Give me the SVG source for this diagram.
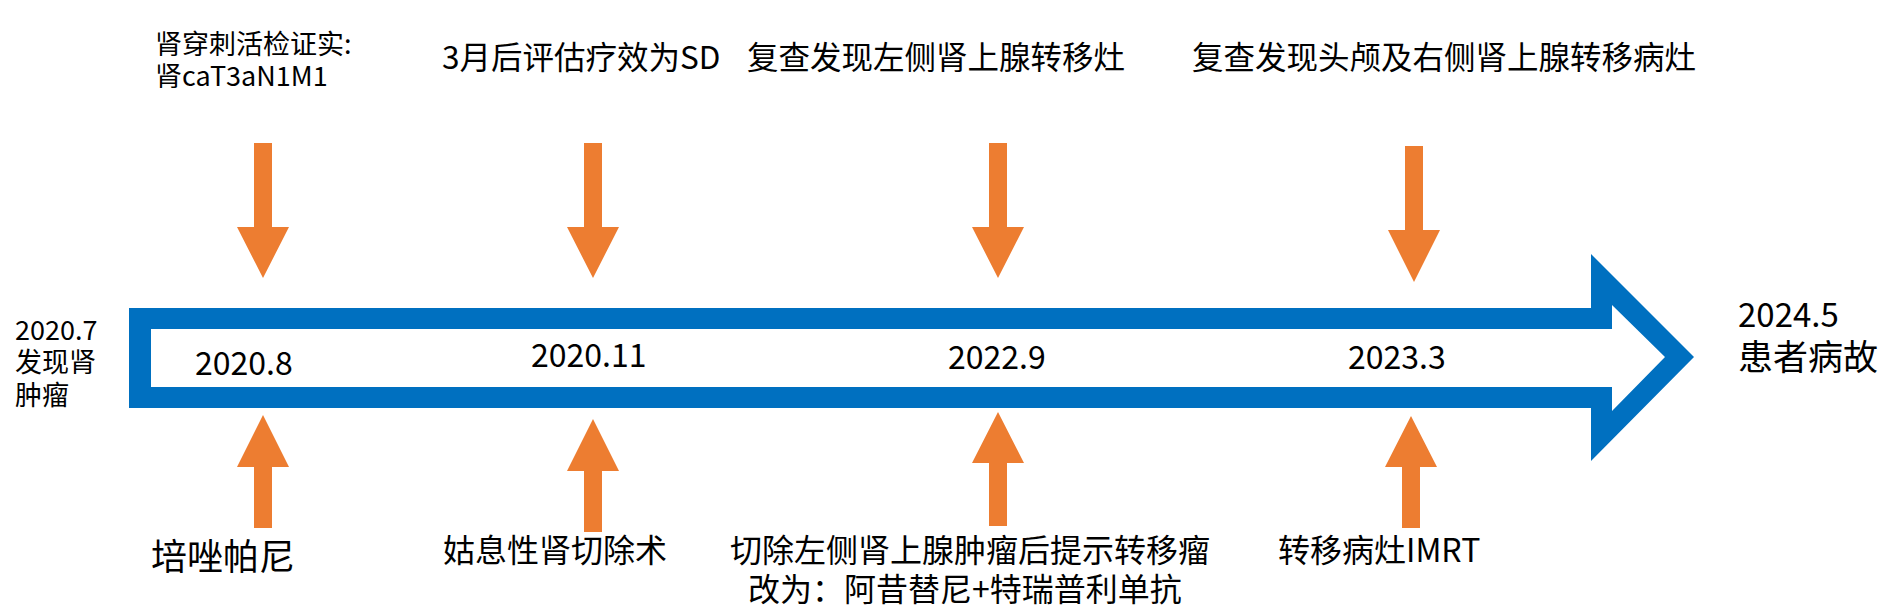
<svg xmlns="http://www.w3.org/2000/svg" width="1898" height="609" viewBox="0 0 1898 609">
<style>
text{font-family:"Noto Sans CJK SC","Noto Sans",sans-serif;fill:#000;}
.t27{font-size:27px}
.t31{font-size:31.5px}
.d{font-size:32px}
.b32{font-size:32px}
.oa{fill:#ED7D31}
.tl{fill:#0070C0;fill-rule:evenodd}
</style>
<rect width="1898" height="609" fill="#fff"/>
<g id="timeline">
<path class="tl" d="M129,308 H1591 V254 L1694,357 L1591,461 V408 H129 Z M151,329 V387 H1612 V411 L1665,357 L1612,305 V329 Z"/>
</g>
<g id="connectors">
<polygon class="oa" points="254,143 272,143 272,227 289,227 263,278 237,227 254,227"/>
<polygon class="oa" points="584,143 602,143 602,227 619,227 593,278 567,227 584,227"/>
<polygon class="oa" points="989,143 1007,143 1007,227 1024,227 998,278 972,227 989,227"/>
<polygon class="oa" points="1405,146 1423,146 1423,230 1440,230 1414,282 1388,230 1405,230"/>
<polygon class="oa" points="254,528 272,528 272,467 289,467 263,415 237,467 254,467"/>
<polygon class="oa" points="584,532 602,532 602,471 619,471 593,419 567,471 584,471"/>
<polygon class="oa" points="989,526 1007,526 1007,463 1024,463 998,412 972,463 989,463"/>
<polygon class="oa" points="1402,528 1420,528 1420,467 1437,467 1411,416 1385,467 1402,467"/>
</g>
<g id="start">
<text class="t27" x="15" y="340">2020.7</text>
<text class="t27" x="15" y="372">发现肾</text>
<text class="t27" x="15" y="405">肿瘤</text>
</g>
<g id="e2020-8">
<text class="t27" x="155" y="54">肾穿刺活检证实:</text>
<text class="t27" x="155" y="86">肾caT3aN1M1</text>
<text class="d" x="195" y="375">2020.8</text>
<text x="151" y="570" style="font-size:36px">培唑帕尼</text>
</g>
<g id="e2020-11">
<text class="t31" x="442" y="69">3月后评估疗效为SD</text>
<text class="d" x="531" y="367">2020.11</text>
<text class="b32" x="443" y="562">姑息性肾切除术</text>
</g>
<g id="e2022-9">
<text class="t31" x="747" y="69">复查发现左侧肾上腺转移灶</text>
<text class="d" x="948" y="369">2022.9</text>
<text class="b32" x="730" y="562">切除左侧肾上腺肿瘤后提示转移瘤</text>
<text class="b32" x="748" y="601">改为：阿昔替尼+特瑞普利单抗</text>
</g>
<g id="e2023-3">
<text class="t31" x="1192" y="69">复查发现头颅及右侧肾上腺转移病灶</text>
<text class="d" x="1348" y="369">2023.3</text>
<text class="b32" x="1278" y="562">转移病灶IMRT</text>
</g>
<g id="end">
<text x="1738" y="327" style="font-size:33px">2024.5</text>
<text x="1738" y="370" style="font-size:35px">患者病故</text>
</g>
</svg>
